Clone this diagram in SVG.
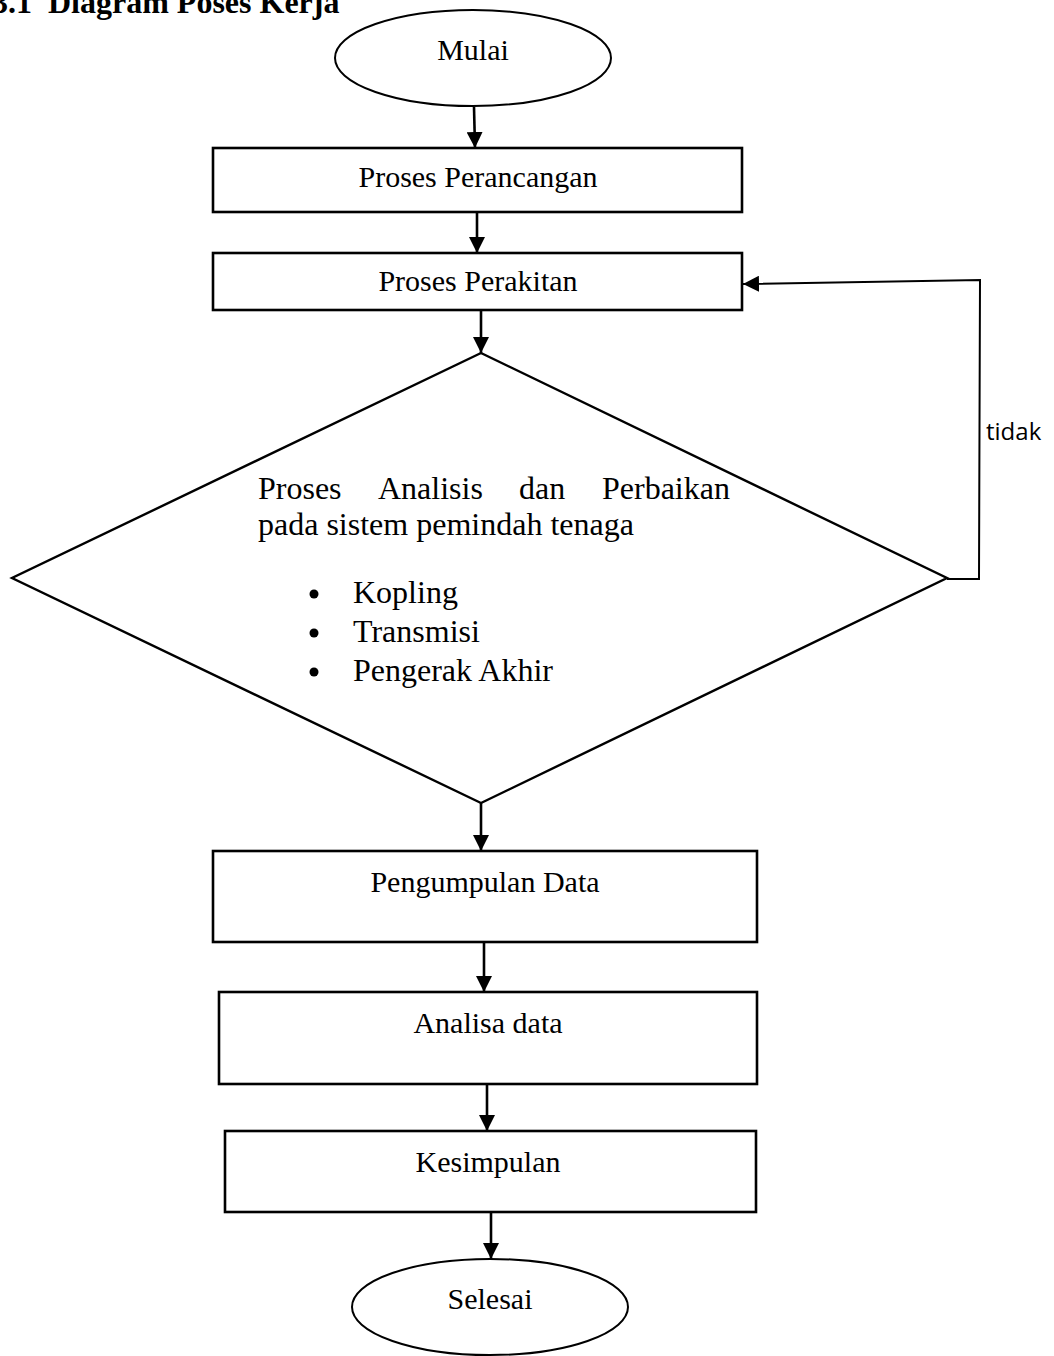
<svg xmlns="http://www.w3.org/2000/svg" width="1054" height="1356" viewBox="0 0 1054 1356">
<style>
.bg{fill:#ffffff}
.box{fill:#ffffff;stroke:#000;stroke-width:2.6}
.ell{fill:#ffffff;stroke:#000;stroke-width:2}
.dia{fill:#ffffff;stroke:#000;stroke-width:2.4}
.t{font-family:"Liberation Serif","Times New Roman",serif;font-size:30px;fill:#000}
.td{font-family:"Liberation Serif","Times New Roman",serif;font-size:32px;fill:#000}
.title{font-family:"Liberation Serif","Times New Roman",serif;font-size:32px;font-weight:bold;fill:#000;white-space:pre}
.lbl{font-family:"Open Sans","DejaVu Sans",sans-serif;font-size:24px;fill:#000}
.c{fill:none;stroke:#000;stroke-width:2.6}
.fb{fill:none;stroke:#000;stroke-width:2}
</style>
<defs>
<marker id="ah" viewBox="0 0 10 10" refX="10" refY="5" markerWidth="16" markerHeight="16" markerUnits="userSpaceOnUse" orient="auto">
<path d="M0,0 L10,5 L0,10 z" fill="#000"/>
</marker>
</defs>
<rect class="bg" x="0" y="0" width="1054" height="1356"/>
<text class="title" x="-8" y="13" xml:space="preserve">3.1  Diagram Poses Kerja</text>

<g id="connectors">
<line class="c" x1="474" y1="107" x2="475" y2="148" marker-end="url(#ah)"/>
<line class="c" x1="477" y1="212" x2="477" y2="253" marker-end="url(#ah)"/>
<line class="c" x1="481" y1="310" x2="481" y2="353" marker-end="url(#ah)"/>
<line class="c" x1="481" y1="803" x2="481" y2="851" marker-end="url(#ah)"/>
<line class="c" x1="484" y1="942" x2="484" y2="992" marker-end="url(#ah)"/>
<line class="c" x1="487" y1="1084" x2="487" y2="1131" marker-end="url(#ah)"/>
<line class="c" x1="491" y1="1212" x2="491" y2="1259" marker-end="url(#ah)"/>
<polyline class="fb" points="947,579 979,579 980,280 743,284" marker-end="url(#ah)"/>
<text class="lbl" x="986" y="440">tidak</text>
</g>

<g id="mulai">
<ellipse class="ell" cx="473" cy="58" rx="138" ry="48"/>
<text class="t" x="473" y="60" text-anchor="middle">Mulai</text>
</g>

<g id="perancangan">
<rect class="box" x="213" y="148" width="529" height="64"/>
<text class="t" x="478" y="187" text-anchor="middle">Proses Perancangan</text>
</g>

<g id="perakitan">
<rect class="box" x="213" y="253" width="529" height="57"/>
<text class="t" x="478" y="291" text-anchor="middle">Proses Perakitan</text>
</g>

<g id="analisis">
<polygon class="dia" points="481,353 947,578 481,803 12,578"/>
<text class="td" y="499"><tspan x="258">Proses</tspan><tspan x="378">Analisis</tspan><tspan x="519">dan</tspan><tspan x="602">Perbaikan</tspan></text>
<text class="td" x="258" y="535">pada sistem pemindah tenaga</text>
<circle cx="314" cy="594" r="4.5" fill="#000"/>
<circle cx="314" cy="633" r="4.5" fill="#000"/>
<circle cx="314" cy="672" r="4.5" fill="#000"/>
<text class="td" x="353" y="603">Kopling</text>
<text class="td" x="353" y="642">Transmisi</text>
<text class="td" x="353" y="681">Pengerak Akhir</text>
</g>

<g id="pengumpulan">
<rect class="box" x="213" y="851" width="544" height="91"/>
<text class="t" x="485" y="892" text-anchor="middle">Pengumpulan Data</text>
</g>

<g id="analisa">
<rect class="box" x="219" y="992" width="538" height="92"/>
<text class="t" x="488" y="1033" text-anchor="middle">Analisa data</text>
</g>

<g id="kesimpulan">
<rect class="box" x="225" y="1131" width="531" height="81"/>
<text class="t" x="488" y="1172" text-anchor="middle">Kesimpulan</text>
</g>

<g id="selesai">
<ellipse class="ell" cx="490" cy="1307" rx="138" ry="48"/>
<text class="t" x="490" y="1309" text-anchor="middle">Selesai</text>
</g>
</svg>
